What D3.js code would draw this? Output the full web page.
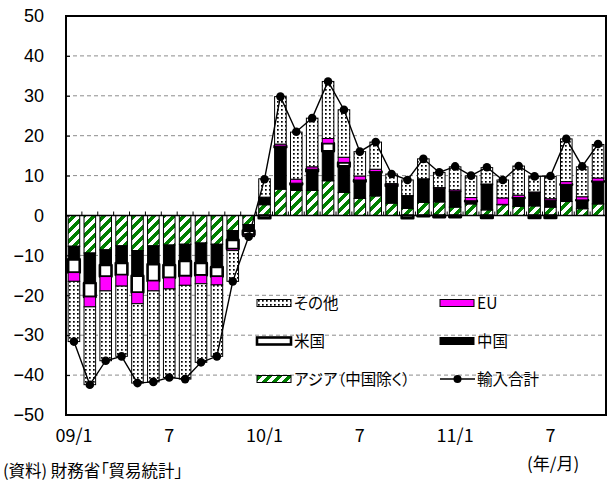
<!DOCTYPE html>
<html><head><meta charset="utf-8">
<script src="https://cdn.jsdelivr.net/npm/d3@7/dist/d3.min.js"></script>
<style>body{margin:0;background:#fff}svg{display:block}.jp{font-feature-settings:"palt"}</style>
</head><body>
<svg id="c" width="608" height="482"></svg>
<script>
const categories = ["09/1","09/2","09/3","09/4","09/5","09/6","09/7","09/8","09/9","09/10","09/11","09/12",
 "10/1","10/2","10/3","10/4","10/5","10/6","10/7","10/8","10/9","10/10","10/11","10/12",
 "11/1","11/2","11/3","11/4","11/5","11/6","11/7","11/8","11/9","11/10"];
const tickLabels = {"09/1":"09/1","09/7":"7","10/1":"10/1","10/7":"7","11/1":"11/1","11/7":"7"};
const yTicks = [-50,-40,-30,-20,-10,0,10,20,30,40,50];

const asia   = [-7.7,-9.4,-8.6,-7.6,-8.8,-7.6,-7.4,-7.2,-6.9,-7.2,-3.8,-2.3, 2.7,6.6,6.3,6.3,8.7,5.8,4.3,4.9,3.1,1.8,3.3,3.4, 2.1,2.9,1.4,2.7,2.3,2.4,2.1,3.5,1.7,2.9];
const china  = [-3.3,-7.5,-3.8,-4.3,-6.3,-4.6,-5.0,-4.2,-5.0,-5.7,-2.3,-1.5, 1.7,10.5,1.5,4.8,7.4,6.5,4.2,5.9,4.3,3.1,5.7,3.4, 3.9,0.6,6.3,0.1,2.1,3.4,1.7,4.2,2.1,5.6];
const us     = [-3.3,-3.5,-2.9,-3.0,-4.2,-4.2,-3.2,-3.8,-3.1,-2.4,-2.3,-1.0, -0.7,0.3,0.3,0.5,2.0,1.0,0.4,0.2,0.4,-0.7,-0.2,-0.4, -0.4,0.2,-0.6,0.0,0.1,-0.6,-0.6,0.1,0.1,0.1];
const eu     = [-2.2,-2.5,-3.6,-2.8,-2.8,-2.5,-2.8,-2.3,-2.1,-2.1,-0.4,-0.3, 0.2,0.5,1.0,0.6,1.2,1.3,1.0,0.6,0.2,0.1,0.2,0.2, 0.4,0.8,0.2,1.6,0.6,0.1,0.4,0.7,0.8,0.8];
const others = [-15.1,-19.5,-17.5,-17.6,-19.9,-22.8,-22.2,-23.5,-19.7,-17.9,-7.7,-0.2, 4.6,11.9,11.8,12.2,14.3,11.9,6.1,6.8,2.4,3.9,5.0,3.8, 5.8,5.4,4.1,4.5,7.3,3.9,5.6,10.7,7.5,8.4];
const total  = [-31.6,-42.4,-36.4,-35.3,-42.0,-41.7,-40.6,-41.0,-36.8,-35.3,-16.5,-5.3, 9.1,29.8,21.0,24.4,33.6,26.5,16.0,18.4,10.4,8.9,14.2,10.8, 12.3,10.0,12.1,8.9,12.4,9.8,9.9,19.2,12.3,17.9];

const seriesKeys = ["asia","china","us","eu","others"];
const seriesNames = {others:"その他", eu:"EU", us:"米国", china:"中国", asia:"アジア（中国除く）", total:"輸入合計"};

const svg = d3.select("#c");
const L=66, R=606, T=16, B=415;
const x = d3.scaleBand().domain(categories).range([L,R]).paddingInner(0.27).paddingOuter(0.135);
const y = d3.scaleLinear().domain([-50,50]).range([B,T]);

const defs = svg.append("defs");
const pd = defs.append("pattern").attr("id","dots").attr("patternUnits","userSpaceOnUse").attr("width",4).attr("height",4);
pd.append("rect").attr("width",4).attr("height",4).attr("fill","#fff");
pd.append("rect").attr("x",1).attr("y",1).attr("width",1.7).attr("height",1.7).attr("fill","#000");
const pg = defs.append("pattern").attr("id","green").attr("patternUnits","userSpaceOnUse").attr("width",10).attr("height",10);
pg.append("rect").attr("width",10).attr("height",10).attr("fill","#fff");
pg.selectAll("path").data(["M-1,11 L11,-1","M-6,6 L6,-6","M4,16 L16,4"]).join("path")
  .attr("d",d=>d).attr("stroke","#008000").attr("stroke-width",3.4).attr("shape-rendering","crispEdges");

const fills = {asia:"url(#green)", china:"#000", us:"#fff", eu:"#ff00ff", others:"url(#dots)"};
const strokeW = {asia:1, china:1, us:2.6, eu:1, others:1};

// grid
svg.append("g").selectAll("line").data(yTicks.filter(v=>v!==0 && v!==50 && v!==-50)).join("line")
  .attr("x1",L).attr("x2",R).attr("y1",d=>y(d)).attr("y2",d=>y(d))
  .attr("stroke","#8c8c8c").attr("stroke-width",1).attr("stroke-dasharray","4,3");

// data table
const rows = categories.map((c,i)=>({cat:c, asia:asia[i], china:china[i], us:us[i], eu:eu[i], others:others[i], total:total[i]}));
const stacked = d3.stack().keys(seriesKeys).offset(d3.stackOffsetDiverging)(rows);

const gBars = svg.append("g");
stacked.forEach(s=>{
  gBars.append("g").selectAll("rect").data(s.filter(d=>Math.abs(y(d[0])-y(d[1]))>0.3)).join("rect")
    .attr("x",d=>x(d.data.cat)).attr("width",x.bandwidth())
    .attr("y",d=>Math.min(y(d[0]),y(d[1]))).attr("height",d=>Math.abs(y(d[0])-y(d[1])))
    .attr("fill",fills[s.key]).attr("stroke","#000").attr("stroke-width",strokeW[s.key])
    .attr("stroke-linejoin", s.key==="us"?"round":"miter");
});

// zero line and boundary ticks
svg.append("line").attr("x1",L).attr("x2",R).attr("y1",y(0)).attr("y2",y(0)).attr("stroke","#000").attr("stroke-width",1.5);
svg.append("g").selectAll("line").data(categories).join("line")
  .attr("x1",d=>x(d)-x.step()*x.paddingInner()/2).attr("x2",d=>x(d)-x.step()*x.paddingInner()/2)
  .attr("y1",y(0)).attr("y2",y(0)-4).attr("stroke","#000").attr("stroke-width",1);

// total line
const line = d3.line().x((d,i)=>x(categories[i])+x.bandwidth()/2).y(d=>y(d));
svg.append("path").attr("d",line(total)).attr("fill","none").attr("stroke","#000").attr("stroke-width",1.4);
svg.append("g").selectAll("circle").data(total).join("circle")
  .attr("cx",(d,i)=>x(categories[i])+x.bandwidth()/2).attr("cy",d=>y(d)).attr("r",4.3).attr("fill","#000");

// frame
svg.append("rect").attr("x",L).attr("y",T).attr("width",R-L).attr("height",B-T).attr("fill","none").attr("stroke","#000").attr("stroke-width",2);

// y axis
const yAxis = d3.axisLeft(y).tickValues(yTicks).tickSize(-4).tickPadding(22).tickFormat(d=>String(d).replace("-","\u2212"));
const ga = svg.append("g").attr("transform",`translate(${L},0)`).call(yAxis);
ga.select(".domain").remove();
ga.selectAll("line").attr("stroke","#000");
ga.selectAll("text").attr("font-family","Liberation Sans, Arial, sans-serif").attr("font-size",18).attr("fill","#000");

// x labels
const xAxis = d3.axisBottom(x).tickValues(Object.keys(tickLabels)).tickSize(0).tickPadding(14).tickFormat(d=>tickLabels[d]);
const gx = svg.append("g").attr("transform",`translate(0,${B})`).call(xAxis);
gx.select(".domain").remove();
gx.selectAll("text").attr("font-family","Noto Sans CJK JP, sans-serif").attr("font-size",18).attr("fill","#000");

// legend
const legendItems = [
  {key:"others", lx:257, ly:303},{key:"eu", lx:440, ly:303},
  {key:"us", lx:257, ly:341},{key:"china", lx:440, ly:341},
  {key:"asia", lx:257, ly:379},{key:"total", lx:440, ly:379}];
const lg = svg.append("g");
legendItems.forEach(it=>{
  const g = lg.append("g").attr("transform",`translate(${it.lx},${it.ly})`);
  if(it.key==="total"){
    g.append("line").attr("x1",0).attr("x2",35).attr("y1",0).attr("y2",0).attr("stroke","#000").attr("stroke-width",1.4);
    g.append("circle").attr("cx",17.5).attr("cy",0).attr("r",4).attr("fill","#000");
  } else {
    g.append("rect").attr("x",0).attr("y",-3.5).attr("width",34).attr("height",7)
      .attr("fill",fills[it.key]).attr("stroke","#000").attr("stroke-width",it.key==="us"?2.6:1);
  }
  g.append("text").attr("class","jp").attr("x",37).attr("y",0).attr("dy","0.36em")
    .attr("font-family","Noto Sans CJK JP, sans-serif").attr("font-size",15.5).attr("fill","#000").text(seriesNames[it.key]);
});

// notes
svg.append("text").attr("class","jp").attr("x",3).attr("y",477).attr("font-family","Noto Sans CJK JP, sans-serif").attr("font-size",16.5).text("(資料) 財務省「貿易統計」");
svg.append("text").attr("x",527).attr("y",470).attr("font-family","Noto Sans CJK JP, sans-serif").attr("font-size",17).text("(年/月)");
</script>
</body></html>
